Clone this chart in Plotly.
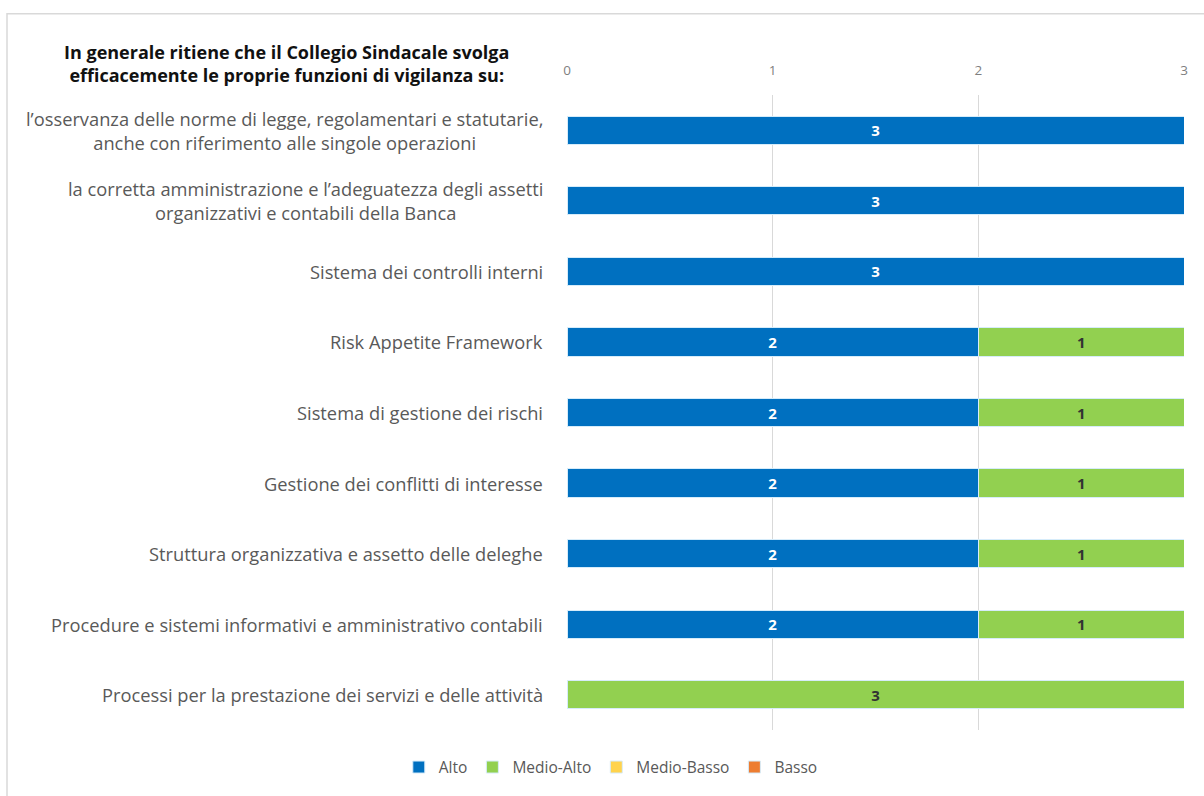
import plotly.graph_objects as go

# Survey items (top to bottom)
categories = [
    "l’osservanza delle norme di legge, regolamentari e statutarie,<br>anche con riferimento alle singole operazioni",
    "la corretta amministrazione e l’adeguatezza degli assetti<br>organizzativi e contabili della Banca",
    "Sistema dei controlli interni",
    "Risk Appetite Framework",
    "Sistema di gestione dei rischi",
    "Gestione dei conflitti di interesse",
    "Struttura organizzativa e assetto delle deleghe",
    "Procedure e sistemi informativi e amministrativo contabili",
    "Processi per la prestazione dei servizi e delle attività",
]

# Number of answers per rating level
alto = [3, 3, 3, 2, 2, 2, 2, 2, 0]
medio_alto = [0, 0, 0, 1, 1, 1, 1, 1, 3]
medio_basso = [0, 0, 0, 0, 0, 0, 0, 0, 0]
basso = [0, 0, 0, 0, 0, 0, 0, 0, 0]

x_ticks = [0, 1, 2, 3]

title_text = ("In generale ritiene che il Collegio Sindacale svolga<br>"
              "efficacemente le proprie funzioni di vigilanza su:")

series = [
    ("Alto", alto, "#0070C0", "white"),
    ("Medio-Alto", medio_alto, "#92D050", "#333333"),
    ("Medio-Basso", medio_basso, "#FFD34D", "#333333"),
    ("Basso", basso, "#ED7D31", "white"),
]

ids = list(range(len(categories)))

fig = go.Figure()
for name, vals, color, txtcol in series:
    fig.add_trace(go.Bar(
        name=name,
        y=ids,
        x=vals,
        orientation="h",
        marker=dict(color=color, line=dict(color="#D6ECFA", width=1)),
        text=[str(v) if v else "" for v in vals],
        textposition="inside",
        insidetextanchor="middle",
        textangle=0,
        textfont=dict(family="Open Sans", size=15, color=txtcol, weight="bold"),
        hoverinfo="skip",
    ))

# Category labels, centred line by line and right-anchored next to the bars
for i, cat in enumerate(categories):
    fig.add_annotation(
        xref="paper", yref="y", x=-0.036, y=i,
        text=cat, showarrow=False, xanchor="right", yanchor="middle",
        align="center",
        font=dict(family="Open Sans", size=18.3, color="#595959"),
    )

# Chart heading
fig.add_annotation(
    xref="paper", yref="paper", x=-0.454, y=1.05,
    text="<b>" + title_text + "</b>", showarrow=False,
    xanchor="center", yanchor="middle", align="center",
    font=dict(family="Open Sans", size=18, color="#111111"),
)

# Outer chart frame
fig.add_shape(
    type="rect", xref="paper", yref="paper",
    x0=-0.9076, x1=1.05, y0=-0.11, y1=1.128,
    line=dict(color="#D9D9D9", width=1.5), fillcolor="rgba(0,0,0,0)",
    layer="below",
)

fig.update_layout(
    width=1204, height=796,
    margin=dict(l=567, r=20, t=95, b=61),
    barmode="stack",
    bargap=0.6,
    plot_bgcolor="white",
    paper_bgcolor="white",
    showlegend=True,
    legend=dict(
        orientation="h", x=0.071, y=-0.059, xanchor="center", yanchor="middle",
        font=dict(family="Open Sans", size=15.5, color="#595959"),
        itemwidth=30, traceorder="normal",
    ),
    xaxis=dict(
        side="top", range=[0, 3], tickvals=x_ticks,
        showgrid=True, gridcolor="#D9D9D9", gridwidth=1,
        zeroline=False, showline=False,
        tickfont=dict(family="Open Sans", size=13.5, color="#7F7F7F"),
        ticks="", ticklabelstandoff=16,
    ),
    yaxis=dict(
        autorange="reversed", showticklabels=False, showgrid=False,
        zeroline=False, showline=False, tickvals=ids,
    ),
)

fig.write_html("out.html")
